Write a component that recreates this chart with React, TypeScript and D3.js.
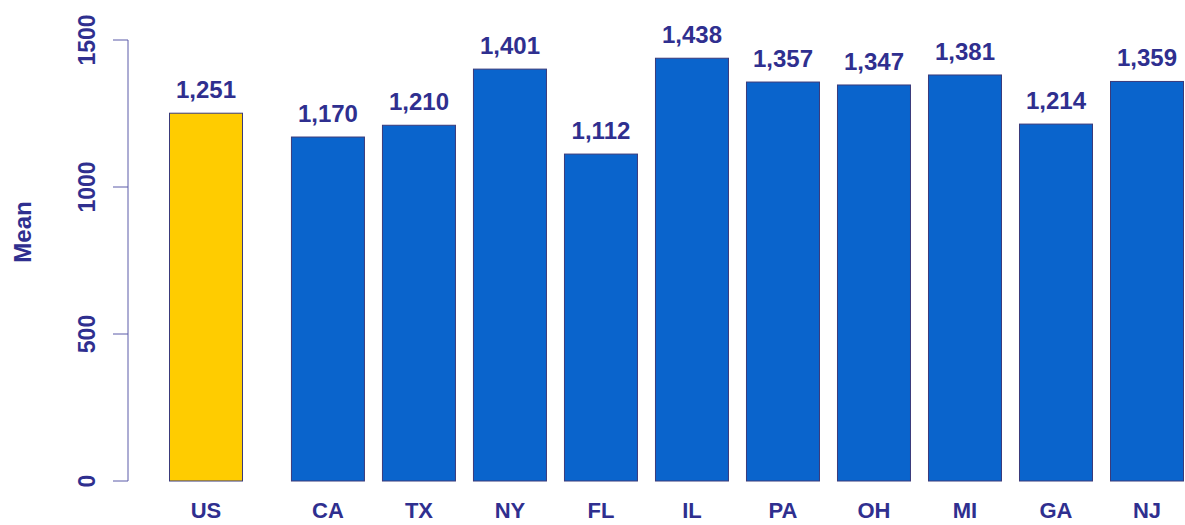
import React, { useRef, useEffect } from 'react';
import * as d3 from 'd3';

// categories and values
const states = ['US', 'CA', 'TX', 'NY', 'FL', 'IL', 'PA', 'OH', 'MI', 'GA', 'NJ'];
const means = [1251, 1170, 1210, 1401, 1112, 1438, 1357, 1347, 1381, 1214, 1359];
const yTicks = [0, 500, 1000, 1500];

const W = 1185;
const H = 525;
const textColor = '#2f2f8f';

const App = () => {
    const svgRef = useRef<SVGSVGElement>(null);

    useEffect(() => {
        const svg = d3.select(svgRef.current);
        svg.selectAll('*').remove();

        // US sits apart from the states, so give it an extra gap
        const slot = (i: number) => (i === 0 ? 0 : i + 0.34);
        const x = d3.scaleLinear().domain([0, 10.34]).range([206, 1147]);
        const y = d3.scaleLinear().domain([0, 1500]).range([481, 40]);
        const barW = 73;
        const font = '"Liberation Sans", Arial, sans-serif';

        // y axis
        const axis = svg.append('g').attr('transform', 'translate(128,0)');
        axis.append('line')
            .attr('y1', y(0)).attr('y2', y(1500))
            .attr('stroke', '#5a5aa8').attr('stroke-width', 1);
        axis.selectAll('.tick')
            .data(yTicks)
            .enter().append('line')
            .attr('x1', -15).attr('x2', 0)
            .attr('y1', d => y(d)).attr('y2', d => y(d))
            .attr('stroke', '#5a5aa8');
        axis.selectAll('.tlab')
            .data(yTicks)
            .enter().append('text')
            .attr('transform', d => `translate(-41,${y(d)}) rotate(-90)`)
            .attr('text-anchor', 'middle')
            .attr('dy', '0.35em')
            .style('font-family', font)
            .style('font-weight', 'bold')
            .style('font-size', '23px')
            .style('fill', textColor)
            .text(d => d);

        svg.append('text')
            .attr('transform', `translate(23,232) rotate(-90)`)
            .attr('text-anchor', 'middle')
            .attr('dy', '0.35em')
            .style('font-family', font)
            .style('font-weight', 'bold')
            .style('font-size', '24px')
            .style('fill', textColor)
            .text('Mean');

        const bars = svg.selectAll('.bar')
            .data(states)
            .enter().append('g')
            .attr('class', 'bar');

        bars.append('rect')
            .attr('x', (d, i) => x(slot(i)) - barW / 2)
            .attr('y', (d, i) => y(means[i]))
            .attr('width', barW)
            .attr('height', (d, i) => y(0) - y(means[i]))
            .attr('fill', (d, i) => (i === 0 ? '#ffcc00' : '#0a64cc'))
            .attr('stroke', '#3a3a7a')
            .attr('stroke-width', 1);

        bars.append('text')
            .attr('x', (d, i) => x(slot(i)))
            .attr('y', (d, i) => y(means[i]) - 15)
            .attr('text-anchor', 'middle')
            .style('font-family', font)
            .style('font-weight', 'bold')
            .style('font-size', '24px')
            .style('fill', textColor)
            .text((d, i) => d3.format(',')(means[i]));

        bars.append('text')
            .attr('x', (d, i) => x(slot(i)))
            .attr('y', 518)
            .attr('text-anchor', 'middle')
            .style('font-family', font)
            .style('font-weight', 'bold')
            .style('font-size', '22px')
            .style('fill', textColor)
            .text(d => d);
    }, []);

    return (
        <svg
            ref={svgRef}
            width={W}
            height={H}
            style={{ position: 'absolute', left: 0, top: 0, background: '#fff' }}
        />
    );
};

export default App;
